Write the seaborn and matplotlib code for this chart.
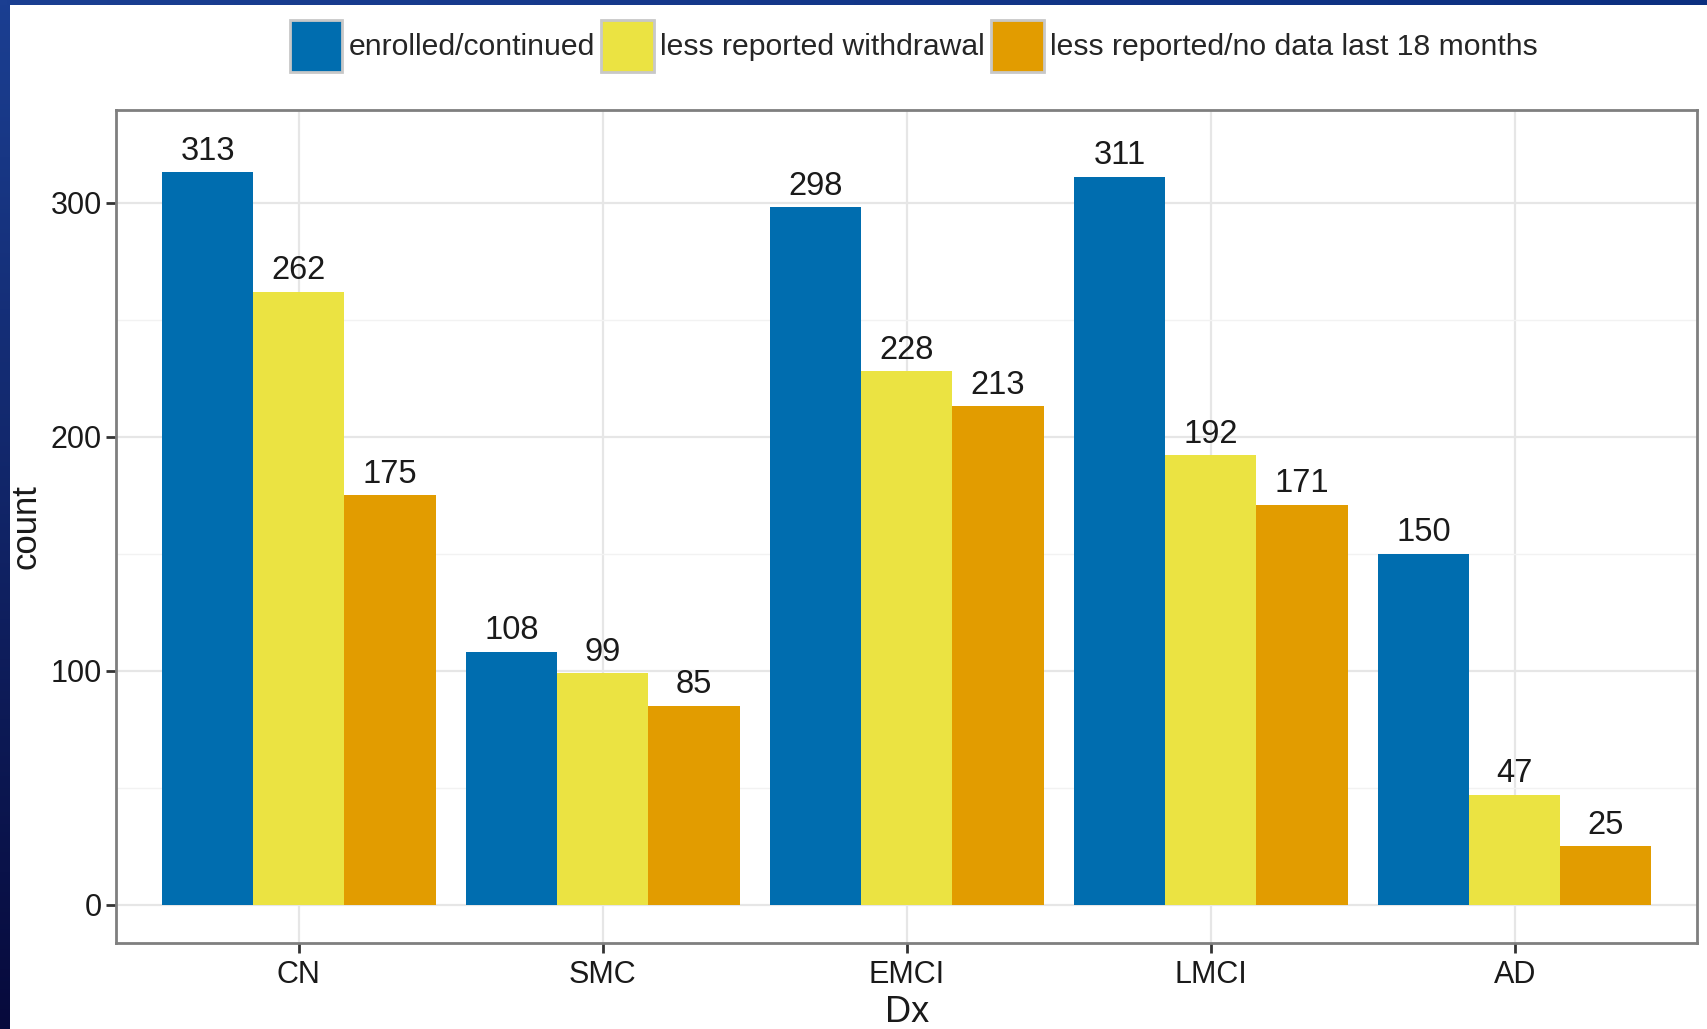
import numpy as np
import pandas as pd
import seaborn as sns
import matplotlib.pyplot as plt
from matplotlib.patches import Patch
from matplotlib.ticker import MultipleLocator

categories = ["CN", "SMC", "EMCI", "LMCI", "AD"]
series = ["enrolled/continued", "less reported withdrawal",
          "less reported/no data last 18 months"]
enrolled = [313, 108, 298, 311, 150]
withdrawal = [262, 99, 228, 192, 47]
no_data = [175, 85, 213, 171, 25]
colors = ["#006DAF", "#EBE342", "#E29C00"]

df = pd.DataFrame({
    "Dx": categories * 3,
    "count": enrolled + withdrawal + no_data,
    "status": [s for s in series for _ in categories],
})

sns.set_theme(style="white")
plt.rcParams["font.family"] = ["Liberation Sans", "DejaVu Sans"]

fig = plt.figure(figsize=(17.08, 10.29), dpi=100)
fig.patch.set_facecolor("white")

# dark blue slide frame (top and left edges)
grad = np.linspace(0, 1, 256).reshape(-1, 1)
left = fig.add_axes([0, 0, 0.0055, 1])
left.imshow(grad, aspect="auto", cmap=sns.blend_palette(["#1b3f92", "#070a3c"], as_cmap=True))
left.axis("off")
top = fig.add_axes([0, 0.995, 1, 0.005])
top.imshow(grad.T, aspect="auto", cmap=sns.blend_palette(["#1b3f92", "#0c2f80"], as_cmap=True))
top.axis("off")

ax = fig.add_axes([0.0682, 0.0836, 0.9254, 0.8094])
sns.barplot(data=df, x="Dx", y="count", hue="status", order=categories,
            hue_order=series, palette=colors, width=0.9, saturation=1,
            linewidth=0, legend=False, ax=ax, zorder=3)

for c in ax.containers:
    ax.bar_label(c, padding=4, fontsize=23.5, color="#1a1a1a")

ax.set_xlim(-0.6, 4.6)
ax.set_ylim(-16.3, 339.5)
ax.yaxis.set_major_locator(MultipleLocator(100))
ax.yaxis.set_minor_locator(MultipleLocator(50))
ax.grid(True, which="major", color="#e6e6e6", linewidth=1.6, zorder=0)
ax.grid(True, which="minor", axis="y", color="#f2f2f2", linewidth=1.0, zorder=0)
ax.set_axisbelow(True)
for s in ax.spines.values():
    s.set_visible(True)
    s.set_color("#7f7f7f")
    s.set_linewidth(2)
ax.tick_params(axis="both", which="major", length=7, width=2, color="#333333",
               labelsize=22, labelcolor="#1a1a1a", direction="out",
               bottom=True, left=True)
ax.tick_params(axis="x", pad=5)
ax.tick_params(axis="y", which="minor", length=0)
ax.set_xlabel("Dx", fontsize=26, color="#1a1a1a", labelpad=4)
ax.set_ylabel("count", fontsize=25, color="#1a1a1a", labelpad=6)

handles = [Patch(facecolor=c, edgecolor="#c8c8c8", linewidth=2) for c in colors]
fig.legend(handles, series, loc="center", bbox_to_anchor=(0.535, 0.9556),
           ncol=3, frameon=False, fontsize=21.7, handlelength=1.75,
           handleheight=2.28, handletextpad=0.2, columnspacing=0.22,
           borderaxespad=0)

plt.savefig("out.png", dpi=100)
